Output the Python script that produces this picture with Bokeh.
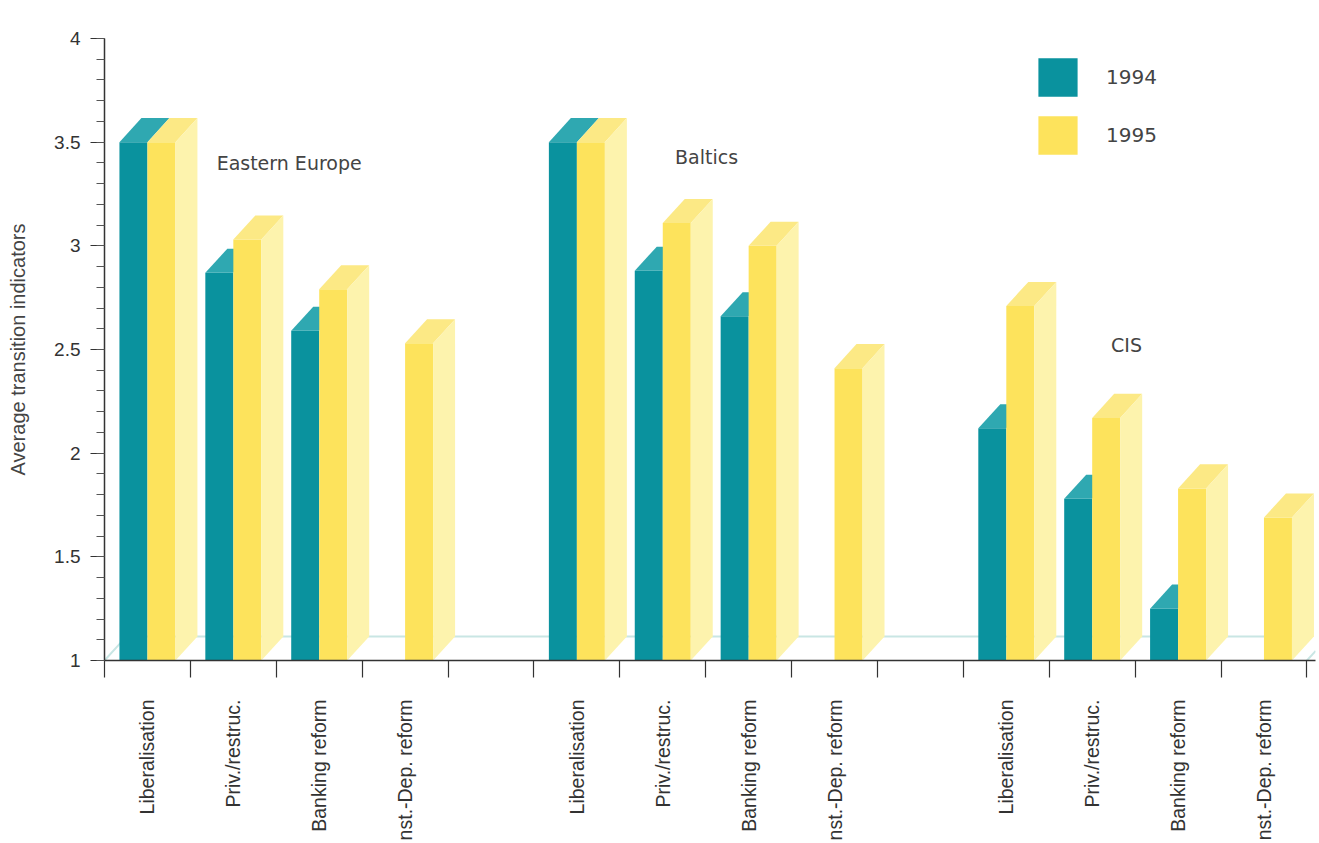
from bokeh.plotting import figure
from bokeh.models import FixedTicker, Label, Legend, LegendItem
from bokeh.embed import file_html
from bokeh.resources import INLINE
import math

# ---- data ----
groups = ["Eastern Europe", "Baltics", "CIS"]
categories = ["Liberalisation", "Priv./restruc.", "Banking reform", "nst.-Dep. reform"]
values_1994 = {
    "Eastern Europe": [3.5, 2.87, 2.59, None],
    "Baltics": [3.5, 2.88, 2.66, None],
    "CIS": [2.12, 1.78, 1.25, None],
}
values_1995 = {
    "Eastern Europe": [3.5, 3.03, 2.79, 2.53],
    "Baltics": [3.5, 3.11, 3.0, 2.41],
    "CIS": [2.71, 2.17, 1.83, 1.69],
}
series_labels = ["1994", "1995"]
y_ticks = [1, 1.5, 2, 2.5, 3, 3.5, 4]

# ---- style ----
TEAL = "#0a929e"
TEAL_TOP = "#2fa8b1"
YEL = "#fde35c"
YEL_TOP = "#fce985"
YEL_SIDE = "#fdf3ad"
FLOOR = "#c9e6e4"
DX = 0.256   # depth offset in slot units
DY = 0.116   # depth offset in y units
B0, BM, B1 = 0.174, 0.5, 0.826

p = figure(width=1319, height=843, output_backend="svg", toolbar_location=None,
           x_range=(0, 14.1), y_range=(1, 4),
           min_border_left=104, min_border_right=4, min_border_top=38, min_border_bottom=183)
p.outline_line_color = None
p.xgrid.visible = False
p.ygrid.visible = False
p.background_fill_color = "white"

# floor back edge
p.line([0, DX, 14.0], [1, 1 + DY, 1 + DY], line_color=FLOOR, line_width=2)
p.line([14.0, 14.0 + DX * 0.4], [1, 1 + DY * 0.4], line_color=FLOOR, line_width=2)

slots = []
labels_map = {}
for gi, g in enumerate(groups):
    for ci, c in enumerate(categories):
        s = gi * 5 + ci
        slots.append((s, values_1994[g][ci], values_1995[g][ci]))
        labels_map[s + 0.5] = c

front94_x, front94_y, top94_x, top94_y = [], [], [], []
front95_x, front95_y, top95_x, top95_y, side95_x, side95_y = [], [], [], [], [], []
for s, v4, v5 in slots:
    if v4 is not None:
        front94_x.append([s + B0, s + BM, s + BM, s + B0])
        front94_y.append([1, 1, v4, v4])
        top94_x.append([s + B0, s + BM, s + BM + DX, s + B0 + DX])
        top94_y.append([v4, v4, v4 + DY, v4 + DY])
    if v5 is not None:
        front95_x.append([s + BM, s + B1, s + B1, s + BM])
        front95_y.append([1, 1, v5, v5])
        top95_x.append([s + BM, s + B1, s + B1 + DX, s + BM + DX])
        top95_y.append([v5, v5, v5 + DY, v5 + DY])
        side95_x.append([s + B1, s + B1 + DX, s + B1 + DX, s + B1])
        side95_y.append([1, 1 + DY, v5 + DY, v5])

r94 = p.patches(front94_x, front94_y, fill_color=TEAL, line_color=None)
p.patches(top94_x, top94_y, fill_color=TEAL_TOP, line_color=None)
r95 = p.patches(front95_x, front95_y, fill_color=YEL, line_color=None)
p.patches(top95_x, top95_y, fill_color=YEL_TOP, line_color=None)
p.patches(side95_x, side95_y, fill_color=YEL_SIDE, line_color=None)

# group labels
for txt, x, y in [(groups[0], 2.15, 3.40), (groups[1], 7.01, 3.43), (groups[2], 11.9, 2.52)]:
    p.add_layout(Label(x=x, y=y, text=txt, text_align="center", text_baseline="middle",
                       text_font="DejaVu Sans", text_font_size="19px", text_color="#444444"))

# legend
legend = Legend(items=[LegendItem(label=series_labels[0], renderers=[r94]),
                       LegendItem(label=series_labels[1], renderers=[r95])],
                location=(929, 501), orientation="vertical",
                glyph_width=49, glyph_height=48, spacing=10, padding=0, margin=0,
                label_standoff=24, label_text_font="DejaVu Sans", label_text_font_size="20px",
                label_text_color="#444444", label_height=48,
                border_line_color=None, background_fill_alpha=0)
p.add_layout(legend, "center")

# y axis
ya = p.yaxis[0]
ya.ticker = FixedTicker(ticks=y_ticks, minor_ticks=[1 + 0.1 * i for i in range(31)])
ya.axis_label = "Average transition indicators"
ya.axis_label_text_font = "Liberation Sans"
ya.axis_label_text_font_style = "normal"
ya.axis_label_text_font_size = "20px"
ya.axis_label_text_color = "#444444"
ya.axis_label_standoff = 22
ya.major_label_text_font = "Liberation Sans"
ya.major_label_text_font_size = "19px"
ya.major_label_text_color = "#333333"
ya.major_label_standoff = 10
ya.major_tick_out = 14
ya.major_tick_in = 0
ya.minor_tick_out = 8
ya.minor_tick_in = 0
ya.axis_line_color = "#333333"
ya.axis_line_width = 1.5
ya.major_tick_line_color = "#333333"
ya.minor_tick_line_color = "#555555"

# x axis
xa = p.xaxis[0]
xa.ticker = FixedTicker(ticks=list(labels_map.keys()), minor_ticks=list(range(15)))
xa.major_label_overrides = labels_map
xa.major_label_orientation = math.pi / 2
xa.major_label_text_font = "Liberation Sans"
xa.major_label_text_font_size = "19.5px"
xa.major_label_text_color = "#333333"
xa.major_label_standoff = 22
xa.major_tick_out = 0
xa.major_tick_in = 0
xa.minor_tick_out = 17
xa.minor_tick_in = 0
xa.axis_line_color = "#333333"
xa.axis_line_width = 1.5
xa.minor_tick_line_color = "#333333"
xa.minor_tick_line_width = 1.2

open("out.html", "w").write(file_html(p, INLINE))
